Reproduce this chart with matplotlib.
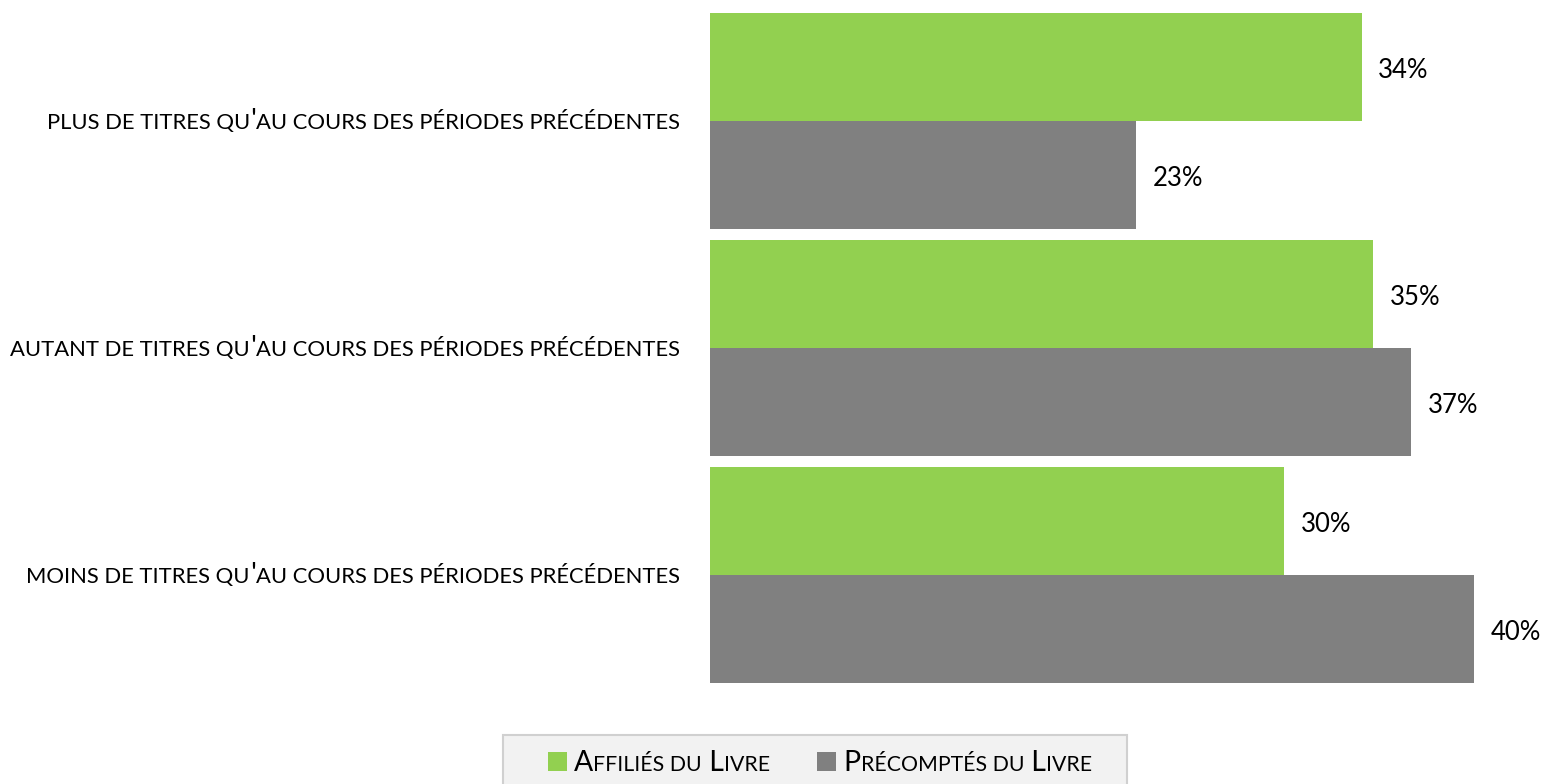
import matplotlib
matplotlib.use("Agg")
import matplotlib.pyplot as plt
from matplotlib.offsetbox import TextArea, HPacker, DrawingArea, AnnotationBbox
from matplotlib.patches import Rectangle

# ---- data ----
categories = [
    "plus de titres qu'au cours des périodes précédentes",
    "autant de titres qu'au cours des périodes précédentes",
    "moins de titres qu'au cours des périodes précédentes",
]
series_names = ["Affiliés du Livre", "Précomptés du Livre"]
affilies = [34.3, 34.9, 30.2]
precomptes = [22.4, 36.9, 40.2]
labels_affilies = ["34%", "35%", "30%"]
labels_precomptes = ["23%", "37%", "40%"]

GREEN = "#92d050"
GREY = "#808080"
FONT = "Lato"
BIG = 21
SMALL = 15.8

W, H = 1545, 784
fig = plt.figure(figsize=(W / 100, H / 100), dpi=100)
ax_left, ax_right = 710 / W, 1.0
ax_bottom, ax_top = (H - 688.5) / H, (H - 7.5) / H
ax = fig.add_axes([ax_left, ax_bottom, ax_right - ax_left, ax_top - ax_bottom])

bh = 108 / 227
ys = list(range(len(categories)))
ax.barh([y - bh / 2 for y in ys], affilies, height=bh, color=GREEN, label=series_names[0])
ax.barh([y + bh / 2 for y in ys], precomptes, height=bh, color=GREY, label=series_names[1])
ax.set_ylim(len(categories) - 0.5, -0.5)
ax.set_xlim(0, (W - 710) / 19.0)
ax.axis("off")

for y, v, lab in zip(ys, affilies, labels_affilies):
    ax.annotate(lab, (v, y - bh / 2), xytext=(12, -2.5), textcoords="offset points",
                va="center", ha="left", fontsize=18.5, family=FONT, color="black")
for y, v, lab in zip(ys, precomptes, labels_precomptes):
    ax.annotate(lab, (v, y + bh / 2), xytext=(12, -2.5), textcoords="offset points",
                va="center", ha="left", fontsize=18.5, family=FONT, color="black")


def smallcaps(s, big=BIG, small=SMALL):
    runs = []
    pending = ""
    for ch in s:
        if ch == " ":
            pending += ch
            continue
        is_big = not ch.islower()
        c = ch.upper()
        if runs and runs[-1][1] == is_big:
            runs[-1][0] += pending + c
        else:
            runs.append([pending + c, is_big])
        pending = ""
    boxes = [TextArea(t, textprops=dict(fontsize=big if b else small, family=FONT, color="black"))
             for t, b in runs]
    return HPacker(children=boxes, align="baseline", pad=0, sep=0)


xlab = (680 - 710) / (W - 710)
for y, cat in zip(ys, categories):
    ab = AnnotationBbox(smallcaps(cat), (xlab, y), xycoords=ax.get_yaxis_transform(),
                        box_alignment=(1, 0.5), frameon=False, pad=0)
    ax.add_artist(ab)

# ---- legend ----
fig.patches.append(Rectangle((503 / W, -0.01), 624 / W, 49 / H + 0.01, transform=fig.transFigure,
                             facecolor="#f2f2f2", edgecolor="#d0d0d0", linewidth=1.5, figure=fig))
items = []
sq = 19 * 72 / 100
for i, (name, col) in enumerate(zip(series_names, [GREEN, GREY])):
    da = DrawingArea(sq, sq, 0, 0)
    da.add_artist(Rectangle((0, 0), sq, sq, facecolor=col, edgecolor="none"))
    sc = smallcaps(name, big=20.4, small=15.3)
    entry = HPacker(children=[da, sc], align="baseline", pad=0, sep=5.5)
    items.append(entry)
leg = HPacker(children=items, align="center", pad=0, sep=34)
ab = AnnotationBbox(leg, (820 / W, 21 / H), xycoords="figure fraction",
                    box_alignment=(0.5, 0.5), frameon=False, pad=0)
fig.add_artist(ab)

fig.savefig("out.png", dpi=100)
